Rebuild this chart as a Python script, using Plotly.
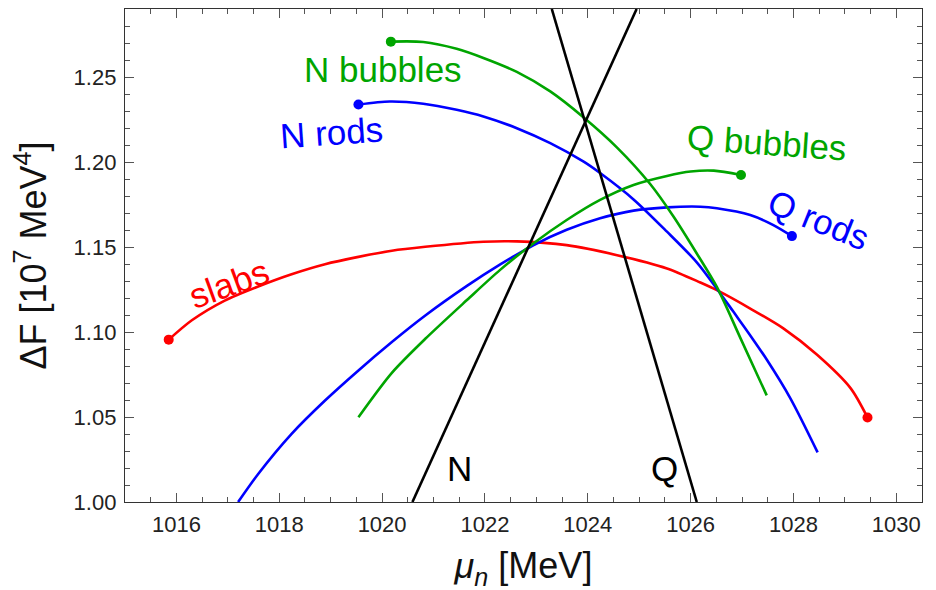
import plotly.graph_objects as go

# ---- data ----
slabs_x = [1015.85, 1016.30, 1016.94, 1017.59, 1018.24, 1018.89, 1019.54, 1020.19, 1020.84,
           1021.97, 1022.62, 1023.59, 1024.57, 1025.54, 1026.19, 1026.51, 1027.16, 1027.81,
           1028.46, 1029.11, 1029.44]
slabs_y = [1.0955, 1.1069, 1.1185, 1.1268, 1.1340, 1.1399, 1.1442, 1.1478, 1.1501,
           1.1531, 1.1533, 1.1511, 1.1452, 1.1374, 1.1291, 1.1246, 1.1138, 1.1020,
           1.0866, 1.0670, 1.0497]

nrods_x = [1019.54, 1020.15, 1020.80, 1021.45, 1021.97, 1022.62, 1023.27, 1023.92, 1024.24,
           1024.89, 1025.54, 1026.12, 1026.51, 1026.83, 1027.16, 1027.48, 1027.94, 1028.47]
nrods_y = [1.2338, 1.2356, 1.2343, 1.2307, 1.2268, 1.2199, 1.2111, 1.2002, 1.1935,
           1.1780, 1.1590, 1.1410, 1.1255, 1.1120, 1.0980, 1.0838, 1.0610, 1.0292]

qrods_x = [1017.20, 1017.59, 1018.24, 1018.89, 1019.54, 1020.19, 1020.84, 1021.65, 1022.29,
           1022.94, 1023.59, 1024.24, 1024.89, 1025.54, 1026.19, 1026.51, 1027.16, 1027.61,
           1027.97]
qrods_y = [1.0000, 1.0165, 1.0401, 1.0597, 1.0774, 1.0941, 1.1097, 1.1271, 1.1396,
           1.1510, 1.1601, 1.1669, 1.1714, 1.1733, 1.1737, 1.1728, 1.1688, 1.1629,
           1.1564]

nbub_x = [1020.17, 1020.80, 1021.45, 1021.97, 1022.62, 1023.27, 1023.92, 1024.57, 1025.21,
          1025.67, 1026.12, 1026.51, 1026.96, 1027.48]
nbub_y = [1.2708, 1.2706, 1.2666, 1.2612, 1.2530, 1.2415, 1.2262, 1.2085, 1.1872,
          1.1678, 1.1462, 1.1265, 1.0970, 1.0627]

qbub_x = [1019.54, 1020.19, 1020.84, 1021.65, 1022.29, 1022.94, 1023.59, 1024.24, 1024.89,
          1025.54, 1026.00, 1026.45, 1026.98]
qbub_y = [1.0499, 1.0760, 1.0960, 1.1188, 1.1364, 1.1521, 1.1659, 1.1777, 1.1865,
          1.1918, 1.1944, 1.1949, 1.1924]

nline_x = [1020.59, 1024.95]
nline_y = [1.00, 1.29]
qline_x = [1023.30, 1026.12]
qline_y = [1.29, 1.00]

RED, BLUE, GREEN, BLACK = "#ff0000", "#0000ff", "#00a500", "#000000"
LW = 2.6
FONT = "Liberation Sans, Arial, sans-serif"

fig = go.Figure()


def curve(x, y, color, dots):
    fig.add_trace(go.Scatter(x=x, y=y, mode="lines",
                             line=dict(color=color, width=LW, shape="spline", smoothing=0.8),
                             showlegend=False, hoverinfo="skip"))
    if dots:
        fig.add_trace(go.Scatter(x=[x[i] for i in dots], y=[y[i] for i in dots], mode="markers",
                                 marker=dict(color=color, size=10), cliponaxis=False,
                                 showlegend=False, hoverinfo="skip"))


curve(slabs_x, slabs_y, RED, [0, -1])
curve(nrods_x, nrods_y, BLUE, [0])
curve(qrods_x, qrods_y, BLUE, [-1])
curve(nbub_x, nbub_y, GREEN, [0])
curve(qbub_x, qbub_y, GREEN, [-1])
fig.add_trace(go.Scatter(x=nline_x, y=nline_y, mode="lines", line=dict(color=BLACK, width=LW),
                         showlegend=False, hoverinfo="skip"))
fig.add_trace(go.Scatter(x=qline_x, y=qline_y, mode="lines", line=dict(color=BLACK, width=LW),
                         showlegend=False, hoverinfo="skip"))

labels = [
    ("N bubbles", 1020.02, 1.2543, 0, GREEN),
    ("N rods", 1019.01, 1.2172, -4, BLUE),
    ("Q bubbles", 1027.49, 1.2113, 4, GREEN),
    ("Q rods", 1028.48, 1.1659, 22, BLUE),
    ("slabs", 1017.02, 1.1287, -20, RED),
    ("N", 1021.50, 1.0196, 0, BLACK),
    ("Q", 1025.49, 1.0196, 0, BLACK),
]
for txt, ax_, ay_, ang, col in labels:
    fig.add_annotation(x=ax_, y=ay_, text=txt, showarrow=False, textangle=ang,
                       xanchor="center", yanchor="middle",
                       font=dict(family=FONT, size=35, color=col))

axis_common = dict(
    showline=True, linecolor="#333333", linewidth=1.3, mirror="allticks",
    ticks="inside", ticklen=9, tickwidth=1.2, tickcolor="#555555",
    showgrid=False, zeroline=False,
    tickfont=dict(family=FONT, size=22, color="#222222"),
)

fig.update_xaxes(range=[1015.0, 1030.5], dtick=2, tick0=1016, ticklabelstandoff=2,
                 minor=dict(dtick=0.5, ticks="inside", ticklen=5, tickcolor="#555555", tickwidth=1),
                 title=dict(text="<i>μ</i><sub><i>n</i></sub> [MeV]",
                            font=dict(family=FONT, size=36, color="#111111"), standoff=17),
                 **axis_common)
fig.update_yaxes(range=[1.0, 1.29], dtick=0.05, tick0=1.0, tickformat=".2f", ticklabelstandoff=3,
                 minor=dict(dtick=0.01, ticks="inside", ticklen=5, tickcolor="#555555", tickwidth=1),
                 title=dict(text="ΔF [10<sup>7</sup> MeV<sup>4</sup>]",
                            font=dict(family=FONT, size=36, color="#111111"), standoff=16),
                 **axis_common)

# page body adds an 8px offset; margins compensate so the plot frame lands where the reference's does
fig.update_layout(
    width=936, height=590,
    margin=dict(l=117, r=22, t=1, b=96, autoexpand=False),
    plot_bgcolor="white", paper_bgcolor="white",
    font=dict(family=FONT),
)

fig.write_html("out.html")
